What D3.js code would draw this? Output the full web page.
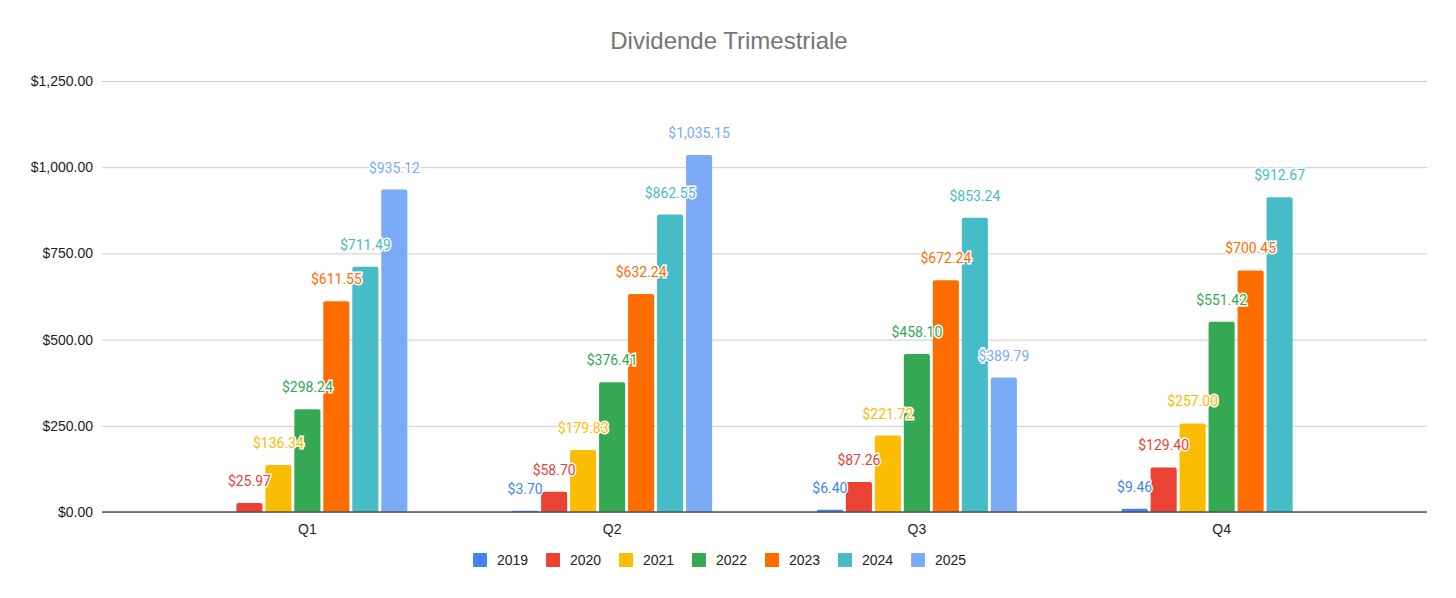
<!DOCTYPE html>
<html>
<head>
<meta charset="utf-8">
<script src="https://cdn.jsdelivr.net/npm/d3@7"></script>
<style>
  body { margin: 0; background: #fff; }
  svg { display: block; }
</style>
</head>
<body>
<svg width="1456" height="598"></svg>
<script>
// quarters on x, one bar per year inside each quarter
const quarters = ['Q1', 'Q2', 'Q3', 'Q4'];
const years = ['2019', '2020', '2021', '2022', '2023', '2024', '2025'];
const colors = ['#4285f4', '#ea4335', '#fbbc04', '#34a853', '#ff6d01', '#46bdc6', '#7baaf7'];

// values per year, in quarter order (null = no bar)
const v2019 = [null, 3.70, 6.40, 9.46];
const v2020 = [25.97, 58.70, 87.26, 129.40];
const v2021 = [136.34, 179.83, 221.72, 257.00];
const v2022 = [298.24, 376.41, 458.10, 551.42];
const v2023 = [611.55, 632.24, 672.24, 700.45];
const v2024 = [711.49, 862.55, 853.24, 912.67];
const v2025 = [935.12, 1035.15, 389.79, null];
const series = [v2019, v2020, v2021, v2022, v2023, v2024, v2025];

const yTicks = [0, 250, 500, 750, 1000, 1250];

const svg = d3.select('svg');
const plotLeft = 102, plotRight = 1427, plotTop = 81, plotBottom = 512;

const y = d3.scaleLinear().domain([0, 1250]).range([plotBottom, plotTop]);
const x0 = d3.scaleBand().domain(quarters).range([155, 1374]).padding(0);
const groupW = 200;
const x1 = d3.scaleBand().domain(years).range([0, groupW]).paddingInner(0.1);
const offset = (x0.bandwidth() - groupW) / 2;

const money = d3.format('$,.2f');

// title
svg.append('text')
  .attr('x', 729).attr('y', 49)
  .attr('text-anchor', 'middle')
  .style('font-family', '"Liberation Sans", Arial, sans-serif')
  .style('font-size', '24px')
  .style('fill', '#757575')
  .text('Dividende Trimestriale');

// gridlines + y labels
const yAxis = d3.axisLeft(y).tickValues(yTicks).tickFormat(money)
  .tickSize(-(plotRight - plotLeft)).tickPadding(9);
const ga = svg.append('g').attr('transform', `translate(${plotLeft},0)`).call(yAxis);
ga.select('.domain').remove();
ga.selectAll('.tick line').attr('stroke', '#cccccc').attr('stroke-width', 1);
ga.selectAll('.tick text')
  .style('font-family', '"Liberation Sans", Arial, sans-serif')
  .style('font-size', '14px')
  .style('fill', '#222');

// bars
const rows = [];
series.forEach((vals, si) => {
  vals.forEach((v, qi) => {
    if (v !== null) rows.push({ q: quarters[qi], year: years[si], v: v, color: colors[si] });
  });
});

const bx = d => x0(d.q) + offset + x1(d.year);

svg.append('g').selectAll('path')
  .data(rows)
  .join('path')
  .attr('fill', d => d.color)
  .attr('d', d => {
    const xx = bx(d), w = x1.bandwidth(), yy = y(d.v), h = plotBottom - yy;
    const r = Math.min(2, h / 2);
    return `M${xx},${plotBottom}V${yy + r}Q${xx},${yy} ${xx + r},${yy}H${xx + w - r}Q${xx + w},${yy} ${xx + w},${yy + r}V${plotBottom}Z`;
  });

// zero line
svg.append('line')
  .attr('x1', plotLeft).attr('x2', plotRight)
  .attr('y1', y(0)).attr('y2', y(0))
  .attr('stroke', '#555').attr('stroke-width', 1.5);

// value labels with white halo
svg.append('g').selectAll('text')
  .data(rows)
  .join('text')
  .attr('x', d => bx(d) + x1.bandwidth() / 2)
  .attr('y', d => y(d.v) - 17)
  .attr('text-anchor', 'middle')
  .style('font-family', 'Roboto, sans-serif')
  .style('font-size', '14px')
  .style('fill', d => d.color)
  .style('stroke', '#fff')
  .style('stroke-width', 3)
  .style('paint-order', 'stroke')
  .text(d => money(d.v));

// x labels
const xAxis = d3.axisBottom(x0).tickSize(0).tickPadding(12);
const gx = svg.append('g').attr('transform', `translate(0,${plotBottom})`).call(xAxis);
gx.select('.domain').remove();
gx.selectAll('.tick text')
  .style('font-family', '"Liberation Sans", Arial, sans-serif')
  .style('font-size', '14px')
  .style('fill', '#222');

// legend
const legend = svg.append('g').selectAll('g')
  .data(years)
  .join('g')
  .attr('transform', (d, i) => `translate(${473 + i * 73},553)`);
legend.append('rect')
  .attr('width', 14).attr('height', 14).attr('rx', 1)
  .attr('fill', (d, i) => colors[i]);
legend.append('text')
  .attr('x', 24).attr('y', 12)
  .style('font-family', '"Liberation Sans", Arial, sans-serif')
  .style('font-size', '14px')
  .style('fill', '#222')
  .text(d => d);
</script>
</body>
</html>
